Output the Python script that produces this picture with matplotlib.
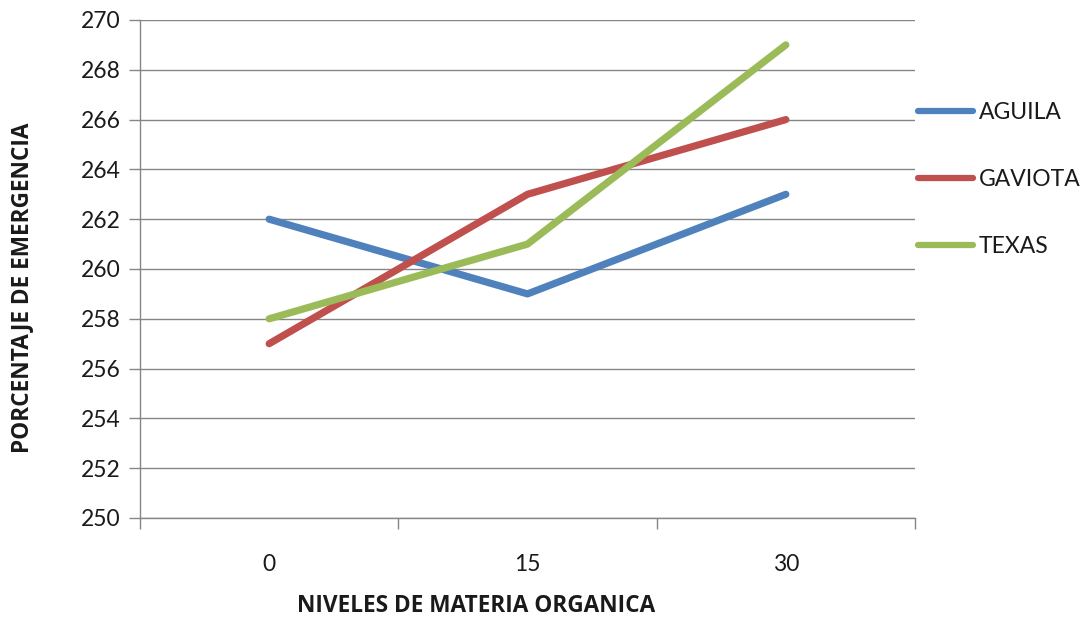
import matplotlib
matplotlib.use("Agg")
import matplotlib.pyplot as plt
from matplotlib.ticker import FixedLocator

plt.rcParams['font.family'] = ['Lato', 'DejaVu Sans']

categories = ["0", "15", "30"]
aguila = [262, 259, 263]
gaviota = [257, 263, 266]
texas = [258, 261, 269]
series_names = ["AGUILA", "GAVIOTA", "TEXAS"]
series_colors = ["#4F81BD", "#C0504D", "#9BBB59"]
y_ticks = list(range(250, 271, 2))

fig = plt.figure(figsize=(10.8, 6.18), dpi=100)
ax = fig.add_axes([140 / 1080, 1 - 518 / 618, 775 / 1080, 498 / 618])

x = list(range(len(categories)))
for name, vals, col in zip(series_names, [aguila, gaviota, texas], series_colors):
    ax.plot(x, vals, color=col, lw=5.2, solid_capstyle='round',
            solid_joinstyle='round', label=name, zorder=3)

grid_col = "#868686"
text_col = "#1a1a1a"
ax.set_xlim(-0.5, len(categories) - 0.5)
ax.set_ylim(250, 270)
ax.set_yticks(y_ticks)
ax.set_yticklabels([str(v) for v in y_ticks])
ax.yaxis.grid(True, color=grid_col, lw=1)
ax.set_axisbelow(True)

ax.set_xticks(x)
ax.set_xticklabels(categories)
ax.xaxis.set_minor_locator(FixedLocator([i - 0.5 for i in range(len(categories) + 1)]))
ax.tick_params(axis='x', which='major', length=0, pad=26, labelsize=16.5, labelcolor=text_col)
ax.tick_params(axis='x', which='minor', length=8, color=grid_col, width=1)
ax.tick_params(axis='y', length=8, color=grid_col, width=1, pad=6, labelsize=16.5, labelcolor=text_col)

for s in ["top", "right"]:
    ax.spines[s].set_visible(False)
for s in ["left", "bottom"]:
    ax.spines[s].set_color(grid_col)
    ax.spines[s].set_linewidth(1)

label_font = ['Open Sans', 'DejaVu Sans']
fig.text(476 / 1080, 1 - 606 / 618, "NIVELES DE MATERIA ORGANICA", fontsize=16.3,
         fontweight='bold', family=label_font, color=text_col, ha='center', va='center')
fig.text(22 / 1080, 1 - 288 / 618, "PORCENTAJE DE EMERGENCIA", fontsize=16.3,
         fontweight='bold', family=label_font, color=text_col, ha='center', va='center',
         rotation=90)

leg = ax.legend(loc='upper left', bbox_to_anchor=(918 / 1080, 1 - 102 / 618),
                bbox_transform=fig.transFigure, frameon=False, fontsize=16.5,
                handlelength=2.4, handletextpad=0.25, labelspacing=2.0,
                borderaxespad=0, borderpad=0, labelcolor=text_col)
for line in leg.get_lines():
    line.set_linewidth(4.5)

fig.savefig("out.png", dpi=100)
